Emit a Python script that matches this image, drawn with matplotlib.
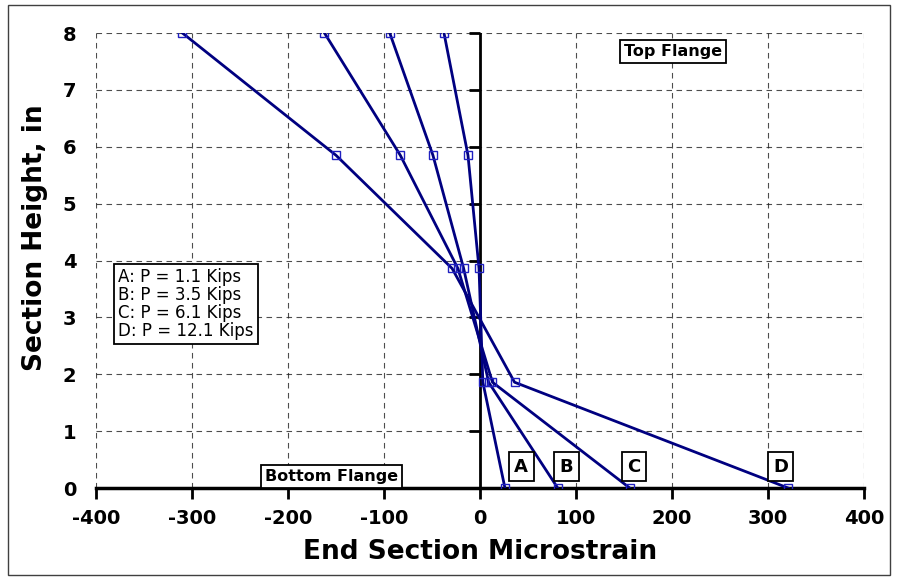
import matplotlib
matplotlib.use("Agg")
import matplotlib.pyplot as plt
from matplotlib.patches import Rectangle

plt.rcParams["axes.unicode_minus"] = False

# section heights (in) and microstrain for each load case
heights = [8, 5.85, 3.86, 1.86, 0]
strain_a = [-37.5, -12.5, -1, 3, 26]
strain_b = [-94, -49, -17, 9, 81]
strain_c = [-162, -83, -23, 13, 156]
strain_d = [-310, -150, -29, 36, 321]

case_labels = ["A", "B", "C", "D"]
case_label_x = [43, 90, 160, 313]
legend_lines = ["A: P = 1.1 Kips", "B: P = 3.5 Kips", "C: P = 6.1 Kips", "D: P = 12.1 Kips"]

xticks = [-400, -300, -200, -100, 0, 100, 200, 300, 400]
yticks = [0, 1, 2, 3, 4, 5, 6, 7, 8]

fig = plt.figure(figsize=(8.98, 5.80), dpi=100)
ax = fig.add_axes([0.1069, 0.1586, 0.8552, 0.7845])

for s in [strain_a, strain_b, strain_c, strain_d]:
    ax.plot(s, heights, color="#000080", lw=2, marker="s", ms=5.5,
            mfc="none", mec="#2020c0", mew=1, zorder=3)

ax.set_xlim(-400, 400)
ax.set_ylim(0, 8)
ax.set_xticks(xticks)
ax.set_yticks(yticks)
ax.grid(True, color="#202020", ls=(0, (5, 4)), lw=0.8, alpha=0.8)
ax.tick_params(axis="x", length=0, labelsize=14, pad=15)
ax.tick_params(axis="y", length=0, labelsize=14, pad=14)
for lab in ax.get_xticklabels() + ax.get_yticklabels():
    lab.set_fontweight("bold")
for sp in ax.spines.values():
    sp.set_visible(False)

# axes crossing at zero, with ticks on them
ax.axvline(0, color="black", lw=2, zorder=2)
ax.axhline(0, color="black", lw=2.5, zorder=2, clip_on=False)
ax.plot([0] * len(yticks), yticks, ls="none", marker=0, ms=8, mew=2,
        color="black", clip_on=False, zorder=2)
ax.plot(xticks, [0] * len(xticks), ls="none", marker=3, ms=8, mew=2,
        color="black", clip_on=False, zorder=2)

ax.set_xlabel("End Section Microstrain", fontsize=19, fontweight="bold", labelpad=8)
ax.set_ylabel("Section Height, in", fontsize=19, fontweight="bold")
ax.yaxis.set_label_coords(-0.062, 0.55)

box = dict(boxstyle="square,pad=0.25", fc="white", ec="black", lw=1.3)
ax.text(201, 7.67, "Top Flange", fontsize=11.5, fontweight="bold",
        ha="center", va="center", bbox=box, zorder=4)
ax.text(-155, 0.21, "Bottom Flange", fontsize=11.5, fontweight="bold",
        ha="center", va="center", bbox=box, zorder=4)
for lab, x in zip(case_labels, case_label_x):
    ax.text(x, 0.375, lab, fontsize=13, fontweight="bold", ha="center",
            va="center", bbox=dict(boxstyle="square,pad=0.3", fc="white",
                                   ec="black", lw=1.3), zorder=4)

ax.text(-236, 3.23, "\n".join(legend_lines), fontsize=12, ha="right",
        multialignment="left", va="center", linespacing=1.0,
        bbox=dict(boxstyle="square,pad=0.25", fc="white", ec="black", lw=1.3),
        zorder=4)

fig.patches.append(Rectangle((0.009, 0.009), 0.982, 0.982, transform=fig.transFigure,
                             fill=False, ec="#404040", lw=1))

fig.savefig("out.png", dpi=100)
